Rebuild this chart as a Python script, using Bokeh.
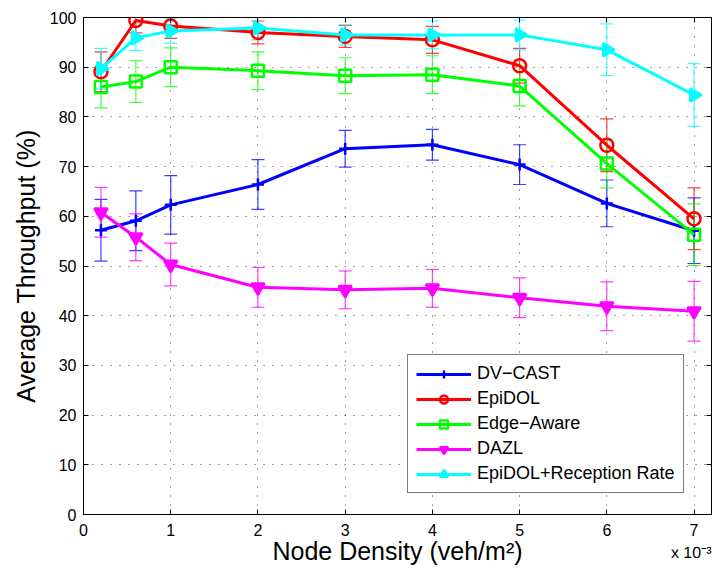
import math
from bokeh.plotting import figure
from bokeh.models import (Range1d, LinearAxis, Whisker, ColumnDataSource, Legend,
                          LegendItem, FixedTicker, TeeHead)
from bokeh.embed import file_html
from bokeh.resources import INLINE

# Node density in units of 1e-3 veh/m^2
density = [0.2, 0.6, 1, 2, 3, 4, 5, 6, 7]

dvcast = [57.2, 59.1, 62.3, 66.4, 73.6, 74.4, 70.4, 62.6, 57.1]
dvcast_err = [6.2, 6.0, 5.9, 5.0, 3.7, 3.1, 4.0, 4.7, 6.6]

epidol = [89.1, 99.4, 98.3, 97.0, 96.2, 95.5, 90.3, 74.3, 59.5]
epidol_err = [4.0, 2.5, 2.5, 2.3, 2.2, 2.7, 3.5, 5.3, 6.2]

edge_aware = [86.0, 87.1, 90.0, 89.3, 88.3, 88.5, 86.2, 70.6, 56.3]
edge_aware_err = [4.2, 4.2, 3.9, 3.8, 3.6, 3.8, 4.0, 4.9, 6.2]

dazl = [60.8, 55.8, 50.3, 45.7, 45.2, 45.5, 43.6, 41.9, 40.9]
dazl_err = [5.0, 4.7, 4.3, 4.0, 3.8, 3.8, 4.0, 4.9, 6.0]

epidol_rr = [89.7, 95.9, 97.3, 97.9, 96.5, 96.5, 96.5, 93.5, 84.4]
epidol_rr_err = [4.1, 2.5, 2.5, 2.4, 2.0, 2.8, 3.0, 5.2, 6.3]

x_ticks = [0, 1, 2, 3, 4, 5, 6, 7]
y_ticks = [0, 10, 20, 30, 40, 50, 60, 70, 80, 90, 100]
x_exponent_text = "x 10\u207b\u00b3"

FONT = "Liberation Sans"

p = figure(width=712, height=572, output_backend="svg", toolbar_location=None,
           x_range=Range1d(0, 7.2), y_range=Range1d(0, 100),
           min_border_left=83, min_border_right=1, min_border_top=17, min_border_bottom=58)
p.background_fill_color = "white"
p.border_fill_color = "white"
p.outline_line_color = "black"
p.outline_line_width = 1

for ax in (p.xaxis[0], p.yaxis[0]):
    ax.major_tick_in = 5
    ax.major_tick_out = 0
    ax.minor_tick_in = 0
    ax.minor_tick_out = 0
    ax.axis_line_color = "black"
    ax.major_tick_line_color = "black"
    ax.major_label_text_font = FONT
    ax.major_label_text_font_size = "16px"
    ax.major_label_text_color = "black"
    ax.axis_label_text_font = FONT
    ax.axis_label_text_font_size = "25px"
    ax.axis_label_text_font_style = "normal"
    ax.axis_label_text_color = "black"

p.xaxis[0].ticker = FixedTicker(ticks=x_ticks)
p.yaxis[0].ticker = FixedTicker(ticks=y_ticks)
p.xaxis[0].axis_label = "Node Density (veh/m²)"
p.yaxis[0].axis_label = "Average Throughput (%)"
p.xaxis[0].major_label_standoff = 9
p.yaxis[0].major_label_standoff = 7
p.xaxis[0].axis_label_standoff = -2
p.yaxis[0].axis_label_standoff = 7

# exponent note of the x axis: a tick-less axis whose label is anchored at the right end
expo = LinearAxis(ticker=FixedTicker(ticks=[]),
                  axis_line_color=None, major_tick_in=0, major_tick_out=0,
                  minor_tick_in=0, minor_tick_out=0,
                  axis_label=x_exponent_text, axis_label_text_font=FONT,
                  axis_label_text_font_size="16px", axis_label_text_font_style="normal",
                  axis_label_text_color="black", axis_label_standoff=-15,
                  axis_label_orientation=0.0005)
expo.axis_label_align = "end"
p.add_layout(expo, "below")

# mirrored inward ticks on top and right (box on) -- minor ticks only, so no labels
top = LinearAxis(ticker=FixedTicker(ticks=[], minor_ticks=x_ticks),
                 major_tick_in=0, major_tick_out=0, minor_tick_in=5, minor_tick_out=0,
                 minor_tick_line_color="black", axis_line_color=None)
right = LinearAxis(ticker=FixedTicker(ticks=[], minor_ticks=y_ticks),
                   major_tick_in=0, major_tick_out=0, minor_tick_in=5, minor_tick_out=0,
                   minor_tick_line_color="black", axis_line_color=None)
p.add_layout(top, "above")
p.add_layout(right, "right")

p.xgrid.ticker = FixedTicker(ticks=x_ticks)
p.ygrid.ticker = FixedTicker(ticks=y_ticks)
for g in (p.xgrid[0], p.ygrid[0]):
    g.grid_line_color = "black"
    g.grid_line_alpha = 0.75
    g.grid_line_dash = "1 8"
    g.grid_line_width = 1

series = [
    ("DV\u2212CAST", dvcast, dvcast_err, "#0000ff", "cross", 0.0, False, 12),
    ("EpiDOL", epidol, epidol_err, "#ff0000", "circle", 0.0, False, 13),
    ("Edge\u2212Aware", edge_aware, edge_aware_err, "#00ff00", "square", 0.0, False, 12),
    ("DAZL", dazl, dazl_err, "#ff00ff", "inverted_triangle", 0.0, True, 13),
    ("EpiDOL+Reception Rate", epidol_rr, epidol_rr_err, "#00ffff", "triangle", -math.pi / 2, True, 13),
]

items = []
for name, vals, errs, color, marker, angle, filled, size in series:
    src = ColumnDataSource(dict(x=density, y=vals,
                                lo=[v - e for v, e in zip(vals, errs)],
                                hi=[v + e for v, e in zip(vals, errs)]))
    w = Whisker(source=src, base="x", upper="hi", lower="lo", dimension="height",
                line_color=color, line_width=1.2, line_alpha=0.75,
                upper_head=TeeHead(size=13, line_color=color, line_width=1.2, line_alpha=0.75),
                lower_head=TeeHead(size=13, line_color=color, line_width=1.2, line_alpha=0.75))
    p.add_layout(w)
    ln = p.line("x", "y", source=src, line_color=color, line_width=3)
    sc = p.scatter("x", "y", source=src, marker=marker, size=size, angle=angle,
                   line_color=color, line_width=2.5,
                   fill_color=color if filled else None)
    items.append(LegendItem(label=name, renderers=[ln, sc]))

legend = Legend(items=items, location=(324, 21), orientation="vertical",
                label_text_font=FONT, label_text_font_size="18px", label_text_color="black",
                glyph_width=55, glyph_height=20, label_standoff=6, spacing=4,
                padding=8, margin=0, border_line_color="black", border_line_width=1,
                background_fill_color="white", background_fill_alpha=1.0,
                label_height=20)
p.add_layout(legend)

open("out.html", "w").write(file_html(p, INLINE))
